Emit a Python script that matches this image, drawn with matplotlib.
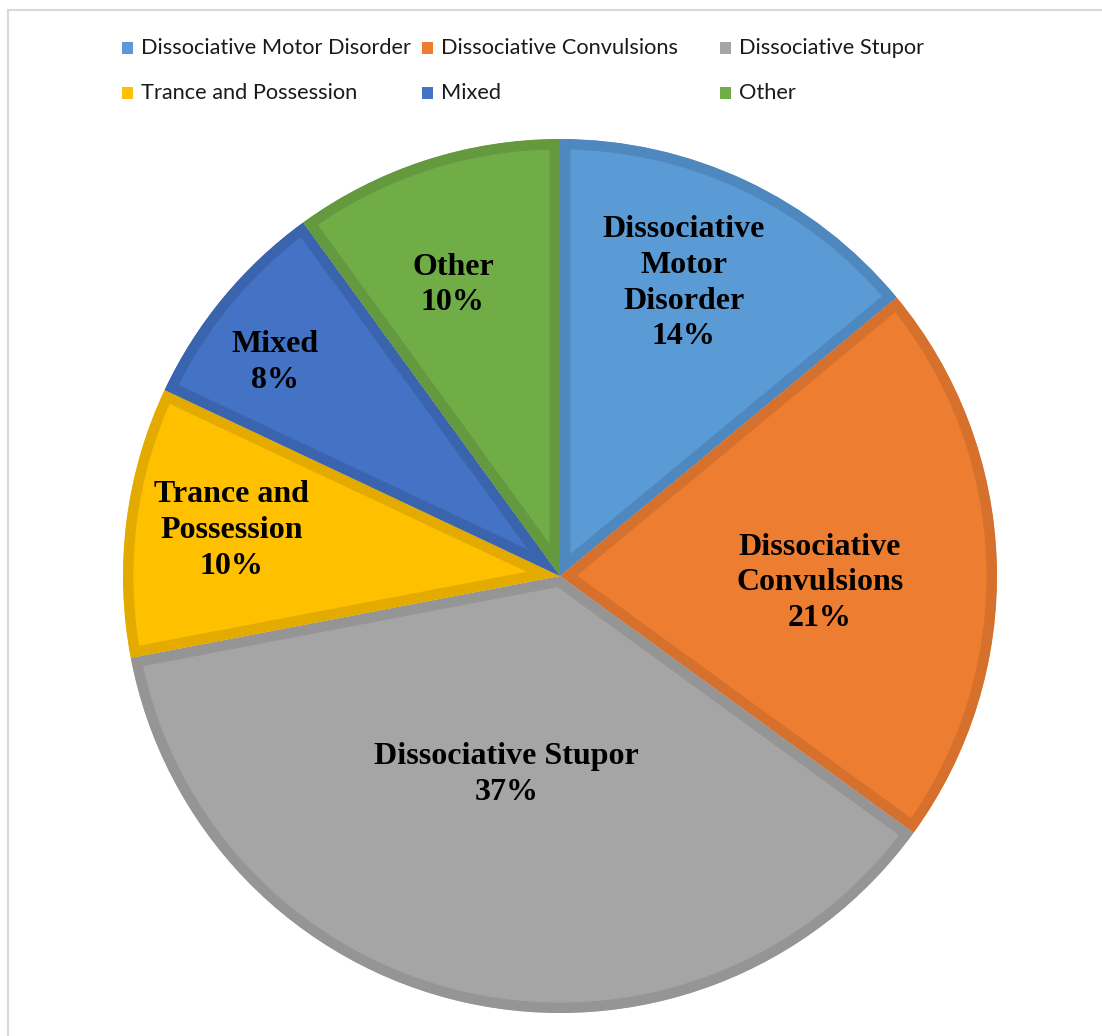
import matplotlib.pyplot as plt
import matplotlib.patches as mpatches

categories = ['Dissociative Motor Disorder', 'Dissociative Convulsions', 'Dissociative Stupor',
              'Trance and Possession', 'Mixed', 'Other']
slice_names = ['Dissociative\nMotor\nDisorder', 'Dissociative\nConvulsions', 'Dissociative Stupor',
               'Trance and\nPossession', 'Mixed', 'Other']
percent = [14, 21, 37, 10, 8, 10]

fill_colors = ['#5B9BD5', '#ED7D31', '#A5A5A5', '#FFC000', '#4472C4', '#70AD47']
edge_colors = ['#4F88BE', '#D5712C', '#959595', '#E3AB00', '#3B64AE', '#64993F']
# where each slice label sits, in pie units (radius = 1)
label_xy = [(0.283, 0.670), (0.595, -0.016), (-0.123, -0.454),
            (-0.752, 0.104), (-0.652, 0.488), (-0.245, 0.666)]

W, H = 1102, 1036
fig = plt.figure(figsize=(W / 100, H / 100), dpi=100)

# pie centre and radius in pixels
cx, cy, r = 560, 576, 437
ax = fig.add_axes([(cx - r) / W, (H - cy - r) / H, 2 * r / W, 2 * r / H])
wedges, _ = ax.pie(percent, colors=fill_colors, startangle=90, counterclock=False,
                   radius=1.0, wedgeprops=dict(linewidth=15, joinstyle='miter'))
for w, ec in zip(wedges, edge_colors):
    w.set_edgecolor(ec)
    w.set_clip_on(True)
    w.set_clip_path(w)  # keep only the inner half of the stroke

for name, p, (tx, ty) in zip(slice_names, percent, label_xy):
    ax.text(tx, ty, f'{name}\n{p}%', ha='center', va='center',
            fontsize=23, fontweight='bold', family='Liberation Serif', linespacing=1.3)
ax.set_xlim(-1, 1)
ax.set_ylim(-1, 1)
ax.axis('off')

# legend laid out in a 3 x 2 grid
col_x = [122, 422, 720]
row_y = [48, 93]
sq = 11
for i, (lab, c) in enumerate(zip(categories, fill_colors)):
    x0 = col_x[i % 3]
    y0 = row_y[i // 3]
    fig.patches.append(mpatches.Rectangle((x0 / W, (H - y0 - sq / 2) / H), sq / W, sq / H,
                                          transform=fig.transFigure, facecolor=c, edgecolor='none'))
    fig.text((x0 + 19) / W, 1 - y0 / H, lab, ha='left', va='center', fontsize=15.7,
             family='Lato', color='#1a1a1a')

# light frame along the top and left
fig.add_artist(plt.Line2D([8 / W, 1], [1 - 10 / H, 1 - 10 / H], color='#d9d9d9', lw=1.5))
fig.add_artist(plt.Line2D([8 / W, 8 / W], [0, 1 - 10 / H], color='#d9d9d9', lw=1.5))

fig.savefig('out.png', dpi=100, facecolor='white')
